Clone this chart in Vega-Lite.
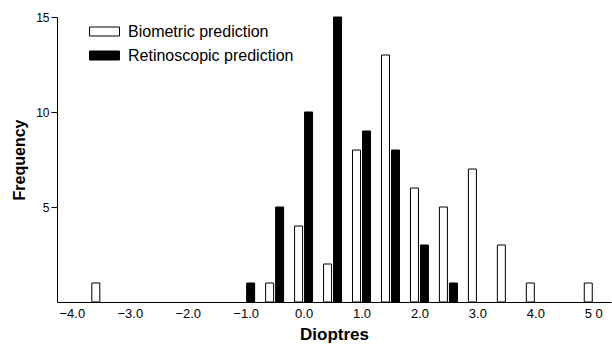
{
  "$schema": "https://vega.github.io/schema/vega-lite/v6.json",
  "autosize": "none",
  "width": 554,
  "height": 285,
  "padding": {"left": 57, "top": 17, "right": 1, "bottom": 43},
  "background": "white",
  "config": {
    "view": {"stroke": null},
    "font": "Liberation Sans",
    "axis": {"domainColor": "black", "tickColor": "black", "labelColor": "black", "titleColor": "black", "grid": false, "labelFont": "Liberation Sans", "titleFont": "Liberation Sans"}
  },
  "data": {
    "values": [
      {"d": -3.5, "series": "Biometric prediction", "n": 1},
      {"d": -0.5, "series": "Biometric prediction", "n": 1},
      {"d": 0.0, "series": "Biometric prediction", "n": 4},
      {"d": 0.5, "series": "Biometric prediction", "n": 2},
      {"d": 1.0, "series": "Biometric prediction", "n": 8},
      {"d": 1.5, "series": "Biometric prediction", "n": 13},
      {"d": 2.0, "series": "Biometric prediction", "n": 6},
      {"d": 2.5, "series": "Biometric prediction", "n": 5},
      {"d": 3.0, "series": "Biometric prediction", "n": 7},
      {"d": 3.5, "series": "Biometric prediction", "n": 3},
      {"d": 4.0, "series": "Biometric prediction", "n": 1},
      {"d": 5.0, "series": "Biometric prediction", "n": 1},
      {"d": -1.0, "series": "Retinoscopic prediction", "n": 1},
      {"d": -0.5, "series": "Retinoscopic prediction", "n": 5},
      {"d": 0.0, "series": "Retinoscopic prediction", "n": 10},
      {"d": 0.5, "series": "Retinoscopic prediction", "n": 15},
      {"d": 1.0, "series": "Retinoscopic prediction", "n": 9},
      {"d": 1.5, "series": "Retinoscopic prediction", "n": 8},
      {"d": 2.0, "series": "Retinoscopic prediction", "n": 3},
      {"d": 2.5, "series": "Retinoscopic prediction", "n": 1}
    ]
  },
  "encoding": {
    "x": {
      "field": "d", "type": "quantitative",
      "scale": {"domain": [-4.17, 5.22], "nice": false, "zero": false},
      "axis": {
        "values": [-4, -3, -2, -1, 0, 1, 2, 3, 4, 5],
        "labelExpr": "datum.value == 5 ? '5 0' : format(datum.value, '.1f')",
        "ticks": false, "labelPadding": 5, "labelFontSize": 13,
        "title": "Dioptres", "titleFontSize": 17, "titleFontWeight": "bold", "titlePadding": 6
      }
    },
    "y": {
      "field": "n", "type": "quantitative",
      "scale": {"domain": [0, 15], "nice": false},
      "axis": {
        "values": [5, 10, 15], "tickSize": 6, "labelPadding": 2, "labelFontSize": 12,
        "title": "Frequency", "titleFontSize": 16, "titleFontWeight": "bold", "titlePadding": 8
      }
    },
    "fill": {
      "field": "series", "type": "nominal",
      "scale": {"domain": ["Biometric prediction", "Retinoscopic prediction"], "range": ["white", "black"]},
      "legend": {
        "title": null, "orient": "none", "legendX": 32, "legendY": -1,
        "symbolType": "M-1,-0.3H1V0.3H-1Z", "symbolSize": 900,
        "symbolStrokeColor": "black", "symbolStrokeWidth": 1, "symbolOpacity": 1,
        "labelFontSize": 16, "labelOffset": 8, "rowPadding": -4, "labelColor": "black", "labelLimit": 400
      }
    }
  },
  "layer": [
    {
      "transform": [{"filter": "datum.series == 'Biometric prediction'"}],
      "mark": {"type": "bar", "width": 8, "xOffset": -5, "stroke": "black", "strokeWidth": 1, "fillOpacity": 1}
    },
    {
      "transform": [{"filter": "datum.series == 'Retinoscopic prediction'"}],
      "mark": {"type": "bar", "width": 8, "xOffset": 5, "stroke": "black", "strokeWidth": 1, "fillOpacity": 1}
    }
  ]
}
